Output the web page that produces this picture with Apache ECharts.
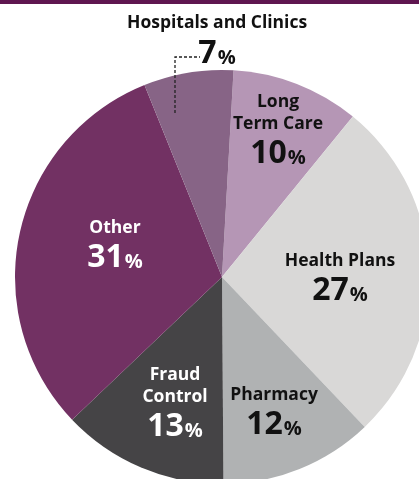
<!DOCTYPE html>
<html>
<head>
<meta charset="utf-8">
<script src="https://cdn.jsdelivr.net/npm/echarts@6/dist/echarts.min.js"></script>
<style>
html,body{margin:0;padding:0;background:#fff;}
#c{width:419px;height:479px;}
</style>
</head>
<body>
<div id="c"></div>
<script>
// Data
const categories = ['Long Term Care', 'Health Plans', 'Pharmacy', 'Fraud Control', 'Other', 'Hospitals and Clinics'];
const labelNames = ['Long\nTerm Care', 'Health Plans', 'Pharmacy', 'Fraud\nControl', 'Other', ''];
const values = [10, 27, 12, 13, 31, 7];

// Styles
const colors = ['#b596b5', '#d9d8d7', '#b0b2b3', '#454446', '#723163', '#876486'];
const textColors = ['#111', '#111', '#111', '#fff', '#fff', '#111'];
// label block anchor (center x, top y) — label layout only
const labelPos = [[278, 91], [340, 250], [274, 384], [175, 364], [115, 217], [217, 35]];
const leaderLine = [[175, 113], [175, 57], [200, 57]];

const chart = echarts.init(document.getElementById('c'));

const data = categories.map((name, i) => {
  const c = textColors[i];
  return {
    name: name,
    value: values[i],
    itemStyle: { color: colors[i] },
    label: {
      rich: {
        name: { fontFamily: 'Open Sans', fontWeight: 'bold', fontSize: 17.5, lineHeight: 22, color: c },
        num: { fontFamily: 'Open Sans', fontWeight: 'bold', fontSize: 32, lineHeight: 38, color: c },
        pct: { fontFamily: 'Open Sans', fontWeight: 'bold', fontSize: 20, lineHeight: 38, color: c, verticalAlign: 'bottom', padding: [0, 0, 5, 1] }
      }
    }
  };
});

chart.setOption({
  animation: false,
  graphic: [
    { type: 'rect', left: 0, top: 0, shape: { width: 419, height: 4 }, style: { fill: '#5f1650' } },
    { type: 'text', left: 127, top: 14, style: { text: categories[5], font: 'bold 17.5px "Open Sans"', fill: '#111' } },
    { type: 'polyline', z: 10, shape: { points: leaderLine }, style: { stroke: '#222', lineWidth: 1.3, lineDash: [3, 2], fill: null } }
  ],
  series: [{
    type: 'pie',
    center: [222, 277],
    radius: 207,
    startAngle: 86.8,
    clockwise: true,
    avoidLabelOverlap: false,
    label: {
      show: true,
      position: 'inside',
      align: 'center',
      formatter: function (p) {
        const nm = labelNames[p.dataIndex];
        return (nm ? '{name|' + nm + '}\n' : '') + '{num|' + p.value + '}{pct|%}';
      }
    },
    labelLine: { show: false },
    labelLayout: function (p) {
      const pos = labelPos[p.dataIndex];
      return { x: pos[0], y: pos[1], align: 'center', verticalAlign: 'top' };
    },
    data: data
  }]
});
</script>
</body>
</html>
